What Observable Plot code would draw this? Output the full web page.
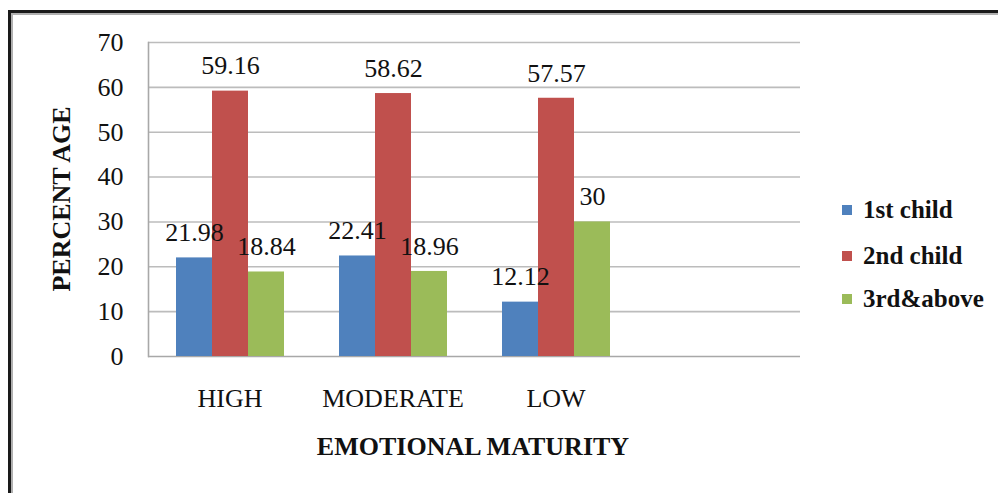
<!DOCTYPE html>
<html><head><meta charset="utf-8">
<script src="https://cdn.jsdelivr.net/npm/d3@7"></script>
<script src="https://cdn.jsdelivr.net/npm/@observablehq/plot@0.6"></script>
<style>
body{margin:0;background:#fff;}
#wrap{position:relative;width:998px;height:493px;overflow:hidden;font-family:"Liberation Serif","Times New Roman",serif;color:#111;}
#box{position:absolute;left:8px;top:10px;width:1300px;height:900px;border-left:3px solid #1a1a1a;border-top:3px solid #1a1a1a;box-shadow:inset 2px 2px 0 #b0b0b0;}
#chart{position:absolute;left:0;top:0;}
#chart svg{overflow:visible;background:transparent;}
.ytitle{position:absolute;left:62px;top:199px;transform:translate(-50%,-50%) rotate(-90deg);font-weight:bold;font-size:26px;white-space:nowrap;}
.xtitle{position:absolute;left:473px;top:447px;transform:translate(-50%,-50%);font-weight:bold;font-size:26px;white-space:nowrap;}
.legend{position:absolute;left:842px;top:0;}
.item{position:absolute;left:0;white-space:nowrap;font-size:25px;font-weight:bold;display:flex;align-items:center;transform:translateY(-50%);}
.sw{width:10px;height:10px;margin-right:11px;display:inline-block;}
</style></head>
<body>
<div id="wrap">
  <div id="box"></div>
  <div id="chart"></div>
  <div class="ytitle">PERCENT AGE</div>
  <div class="xtitle">EMOTIONAL MATURITY</div>
  <div class="legend" id="legend"></div>
</div>
<script>
const categories = ["HIGH", "MODERATE", "LOW"];
const series = ["1st child", "2nd child", "3rd&above"];
const firstChild = [21.98, 22.41, 12.12];
const secondChild = [59.16, 58.62, 57.57];
const thirdAbove = [18.84, 18.96, 30];
const colors = ["#4F81BD", "#C0504D", "#9BBB59"];
const yTicks = [0, 10, 20, 30, 40, 50, 60, 70];
const emptySlot = " ";

const seriesValues = [firstChild, secondChild, thirdAbove];
const data = [];
categories.forEach((c, i) => {
  series.forEach((s, j) => data.push({cat: c, series: s, value: seriesValues[j][i]}));
});
const fxDomain = [...categories, emptySlot];
const gridData = fxDomain.flatMap(c => yTicks.map(t => ({cat: c, v: t})));

const font = "Liberation Serif";
const chart = Plot.plot({
  width: 998,
  height: 493,
  marginLeft: 148,
  marginRight: 198,
  marginTop: 42,
  marginBottom: 137,
  style: {fontFamily: font, fontSize: "26px", color: "#111", background: "transparent"},
  fx: {domain: fxDomain, padding: 0, axis: null},
  x: {domain: series, paddingInner: 0, paddingOuter: 0.75, axis: null},
  y: {domain: [0, 70], axis: null},
  color: {domain: series, range: colors},
  marks: [
    Plot.ruleY(gridData.filter(d => d.v > 0), {fx: "cat", y: "v", stroke: "#bcbcbc", strokeWidth: 1.6}),
    Plot.ruleY(gridData.filter(d => d.v === 0), {fx: "cat", y: "v", stroke: "#a8a8a8", strokeWidth: 1.6}),
    Plot.frame({anchor: "left", facetAnchor: "left", stroke: "#a8a8a8", strokeWidth: 1.6}),
    Plot.barY(data, {fx: "cat", x: "series", y: "value", fill: "series"}),
    Plot.text(data, {fx: "cat", x: "series", y: "value", text: d => String(d.value), dy: -25, fontSize: 26, fill: "#111"}),
    Plot.axisY({ticks: yTicks, tickSize: 0, tickPadding: 25, label: null, fontSize: 26}),
    Plot.axisFx({anchor: "bottom", tickSize: 0, tickPadding: 32, label: null, fontSize: 26})
  ]
});
d3.select(chart).style("font-family", "'Liberation Serif', 'Times New Roman', serif");
d3.select(chart).selectAll("text, g").style("font-family", "'Liberation Serif', 'Times New Roman', serif");
document.getElementById("chart").appendChild(chart);

const legend = document.getElementById("legend");
const legendY = [210, 256, 299];
series.forEach((s, i) => {
  const el = document.createElement("div");
  el.className = "item";
  el.style.top = legendY[i] + "px";
  el.innerHTML = `<span class="sw" style="background:${colors[i]}"></span>${s}`;
  legend.appendChild(el);
});
</script>
</body></html>
